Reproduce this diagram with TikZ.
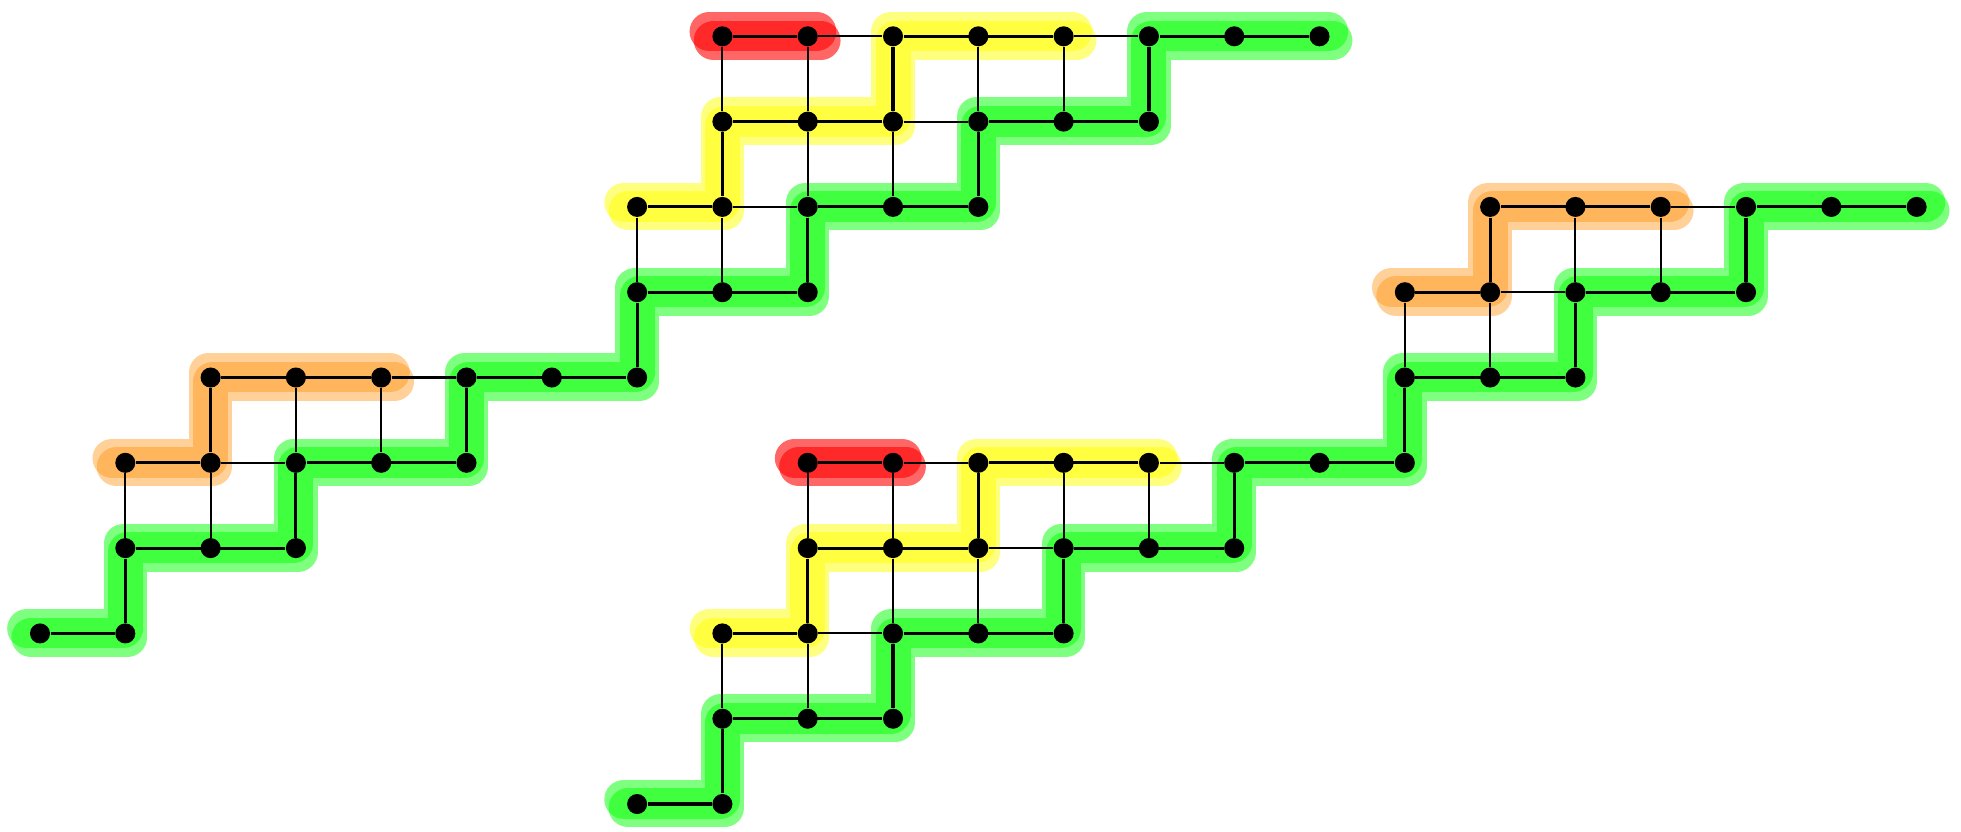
\documentclass[tikz,border=0pt]{standalone}
\usetikzlibrary{backgrounds}
\definecolor{hlgreen}{RGB}{0,255,0}
\definecolor{hlred}{RGB}{255,0,0}
\definecolor{hlyellow}{RGB}{255,255,0}
\definecolor{hlorange}{RGB}{255,140,0}
\newcommand\mkhl[3]{%
  \draw[hlstroke,draw=#1,opacity=#2,transform canvas={shift={(0.025,0.045)}}] #3;%
  \draw[hlstroke,draw=#1,opacity=#2,transform canvas={shift={(-0.025,-0.055)}}] #3;%
}
\begin{document}
\begin{tikzpicture}[x=1cm,y=-1cm,
  vtx/.style={circle,fill=black,draw=none,inner sep=0pt,minimum size=0.235cm},
  plainedge/.style={line width=0.7pt,black},
  pathedge/.style={line width=1.05pt,black},
  hlstroke/.style={line width=0.46cm,line cap=round,line join=round,
    shorten <=-0.13cm,shorten >=-0.13cm}
]
\useasboundingbox (-0.469,-0.4256) rectangle (22.520,9.317);

% vertices
\foreach \j/\a/\b in {0/8/15,1/8/13,2/7/11,3/7/9,4/2/7,5/1/5,6/1/3,7/0/1,
                      2/17/22,3/16/20,4/16/18,5/9/16,6/9/14,7/8/12,8/8/10,9/7/8}{
  \foreach \i in {\a,...,\b}{
    \node[vtx] (n-\i-\j) at (\i,\j) {};
  }
}

% horizontal edges
\foreach \j/\a/\b in {0/8/15,1/8/13,2/7/11,3/7/9,4/2/7,5/1/5,6/1/3,7/0/1,
                      2/17/22,3/16/20,4/16/18,5/9/16,6/9/14,7/8/12,8/8/10,9/7/8}{
  \pgfmathtruncatemacro{\c}{\b-1}
  \foreach \i in {\a,...,\c}{
    \pgfmathtruncatemacro{\k}{\i+1}
    \draw[plainedge] (n-\i-\j) -- (n-\k-\j);
  }
}

% vertical edges
\foreach \i/\a/\b in {8/0/3,9/0/3,10/0/2,11/0/2,12/0/1,13/0/1,7/2/4,2/4/6,3/4/6,4/4/5,5/4/5,1/5/7,
                      17/2/4,18/2/4,19/2/3,20/2/3,16/3/5,9/5/8,10/5/8,11/5/7,12/5/7,13/5/6,14/5/6,8/7/9}{
  \pgfmathtruncatemacro{\c}{\b-1}
  \foreach \j in {\a,...,\c}{
    \pgfmathtruncatemacro{\k}{\j+1}
    \draw[plainedge] (n-\i-\j) -- (n-\i-\k);
  }
}

% highlighted paths (marker strokes)
\begin{pgfonlayer}{background}
\mkhl{hlred}{0.6}{(n-8-0.center) -- (n-9-0.center)}
\mkhl{hlyellow}{0.5}{(n-12-0.center) -- (n-10-0.center) -- (n-10-1.center) -- (n-8-1.center) -- (n-8-2.center) -- (n-7-2.center)}
\mkhl{hlgreen}{0.5}{(n-15-0.center) -- (n-13-0.center) -- (n-13-1.center) -- (n-11-1.center) -- (n-11-2.center) -- (n-9-2.center) -- (n-9-3.center) -- (n-7-3.center) -- (n-7-4.center) -- (n-5-4.center) -- (n-5-5.center) -- (n-3-5.center) -- (n-3-6.center) -- (n-1-6.center) -- (n-1-7.center) -- (n-0-7.center)}
\mkhl{hlorange}{0.4}{(n-4-4.center) -- (n-2-4.center) -- (n-2-5.center) -- (n-1-5.center)}
\mkhl{hlorange}{0.4}{(n-19-2.center) -- (n-17-2.center) -- (n-17-3.center) -- (n-16-3.center)}
\mkhl{hlgreen}{0.5}{(n-22-2.center) -- (n-20-2.center) -- (n-20-3.center) -- (n-18-3.center) -- (n-18-4.center) -- (n-16-4.center) -- (n-16-5.center) -- (n-14-5.center) -- (n-14-6.center) -- (n-12-6.center) -- (n-12-7.center) -- (n-10-7.center) -- (n-10-8.center) -- (n-8-8.center) -- (n-8-9.center) -- (n-7-9.center)}
\mkhl{hlred}{0.6}{(n-9-5.center) -- (n-10-5.center)}
\mkhl{hlyellow}{0.5}{(n-13-5.center) -- (n-11-5.center) -- (n-11-6.center) -- (n-9-6.center) -- (n-9-7.center) -- (n-8-7.center)}
\end{pgfonlayer}

% edges on the highlighted paths (drawn heavier)
\draw[pathedge] (n-8-0) -- (n-9-0);
\draw[pathedge] (n-12-0) -- (n-10-0) -- (n-10-1) -- (n-8-1) -- (n-8-2) -- (n-7-2);
\draw[pathedge] (n-15-0) -- (n-13-0) -- (n-13-1) -- (n-11-1) -- (n-11-2) -- (n-9-2) -- (n-9-3) -- (n-7-3) -- (n-7-4) -- (n-5-4) -- (n-5-5) -- (n-3-5) -- (n-3-6) -- (n-1-6) -- (n-1-7) -- (n-0-7);
\draw[pathedge] (n-4-4) -- (n-2-4) -- (n-2-5) -- (n-1-5);
\draw[pathedge] (n-19-2) -- (n-17-2) -- (n-17-3) -- (n-16-3);
\draw[pathedge] (n-22-2) -- (n-20-2) -- (n-20-3) -- (n-18-3) -- (n-18-4) -- (n-16-4) -- (n-16-5) -- (n-14-5) -- (n-14-6) -- (n-12-6) -- (n-12-7) -- (n-10-7) -- (n-10-8) -- (n-8-8) -- (n-8-9) -- (n-7-9);
\draw[pathedge] (n-9-5) -- (n-10-5);
\draw[pathedge] (n-13-5) -- (n-11-5) -- (n-11-6) -- (n-9-6) -- (n-9-7) -- (n-8-7);
\end{tikzpicture}
\end{document}
